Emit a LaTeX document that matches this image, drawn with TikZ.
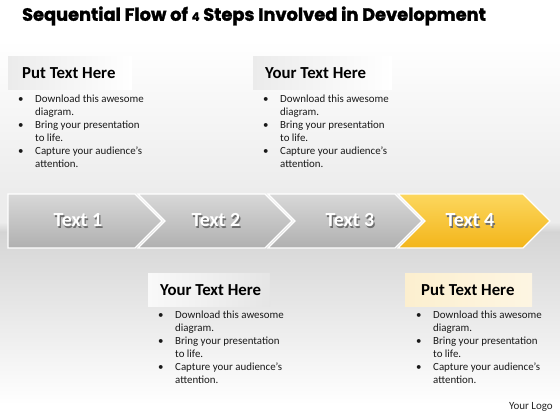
\documentclass[tikz,border=0pt]{standalone}
\usepackage{fontspec}
\setmainfont{Carlito}
\newfontfamily\titlefont[BoldFeatures={FakeBold=1.6}]{Poppins}
\usetikzlibrary{shadings}
\definecolor{bgtop}{HTML}{ECECEC}
\definecolor{bgmid}{HTML}{D4D4D4}
\definecolor{chevtop}{HTML}{D8D8D8}
\definecolor{chevbot}{HTML}{B0B0B0}
\definecolor{yeltop}{HTML}{FCD75E}
\definecolor{yelbot}{HTML}{F3B51A}
\definecolor{hdrgray}{HTML}{EBEBEB}
\definecolor{hdryel}{HTML}{FCEFCF}
\definecolor{shadowgray}{HTML}{6E6E6E}
\newcommand\shtext[1]{\makebox[0pt][l]{\raisebox{-1.2pt}{\hspace{1.2pt}\textcolor{shadowgray}{#1}}}\textcolor{white}{#1}}
\newcommand\bulletlist{%
\begin{tabular}{@{}p{17pt}@{}l@{}}
\textbullet & Download this awesome\\
 & diagram.\\
\textbullet & Bring your presentation\\
 & to life.\\
\textbullet & Capture your audience’s\\
 & attention.
\end{tabular}}
\tikzset{
  chevgray/.style={top color=chevtop, bottom color=chevbot, draw=white, line width=1.2pt, line join=miter},
  chevyel/.style={top color=yeltop, bottom color=yelbot, draw=white, line width=1.2pt, line join=miter},
  chevlabel/.style={font=\fontsize{20}{20}\selectfont\bfseries, inner sep=0pt},
  hdrlabel/.style={font=\fontsize{16.8}{18}\selectfont\bfseries, anchor=west, inner sep=0pt, text=black},
  bodytext/.style={font=\fontsize{10.9}{13}\selectfont, anchor=north west, inner sep=0pt, text=black!90},
}
\begin{document}
\begin{tikzpicture}[x=1pt,y=-1pt]
\useasboundingbox (0,0) rectangle (560,420);
% background
\fill[white] (0,0) rectangle (560,420);
\shade[top color=white, bottom color=bgtop] (0,40) rectangle (560,192);
\fill[bgtop] (0,192) rectangle (560,228);
\shade[top color=bgmid, bottom color=white] (0,228) rectangle (560,405);
\shade[top color=bgtop, bottom color=bgmid] (0,222) rectangle (560,232);
% title
\node[font=\titlefont\bfseries\fontsize{17.8}{20}\selectfont, inner sep=0pt] (title) at (254,16)
  {Sequential Flow of {\fontsize{11.5}{12}\selectfont 4} Steps Involved in Development};
% header boxes
\shade[left color=hdrgray, right color=white] (8,57) rectangle (132,90);
\shade[left color=hdrgray, right color=white] (253,57) rectangle (392,90);
\shade[left color=white!70!hdrgray, right color=bgmid!60] (148,273) rectangle (270,306);
\shade[left color=hdryel, right color=hdryel!60!white] (405,273) rectangle (532,306);
\node[hdrlabel] (h1) at (22,73) {Put Text Here};
\node[hdrlabel] (h2) at (265,73) {Your Text Here};
\node[hdrlabel] (h3) at (160,290) {Your Text Here};
\node[hdrlabel] (h4) at (421,290) {Put Text Here};
\node[bodytext] (b1) at (18,93) {\bulletlist};
\node[bodytext] (b2) at (263,93) {\bulletlist};
\node[bodytext] (b3) at (158,309) {\bulletlist};
\node[bodytext] (b4) at (416,309) {\bulletlist};
% chevrons
\path[chevgray] (8,194) -- (135,194) -- (162,221) -- (135,248) -- (8,248) -- cycle;
\path[chevgray] (138,194) -- (265,194) -- (292,221) -- (265,248) -- (138,248) -- (165,221) -- cycle;
\path[chevgray] (268,194) -- (395,194) -- (422,221) -- (395,248) -- (268,248) -- (295,221) -- cycle;
\path[chevyel] (398,194) -- (523,194) -- (550,221) -- (523,248) -- (398,248) -- (425,221) -- cycle;
\node[chevlabel] (t1) at (78,221) {\shtext{Text 1}};
\node[chevlabel] (t2) at (216,221) {\shtext{Text 2}};
\node[chevlabel] (t3) at (350,221) {\shtext{Text 3}};
\node[chevlabel] (t4) at (470,221) {\shtext{Text 4}};
\node[font=\fontsize{11}{12}\selectfont, anchor=east, inner sep=0pt, text=black!85] (logo) at (553,407) {Your Logo};
\end{tikzpicture}
\end{document}
